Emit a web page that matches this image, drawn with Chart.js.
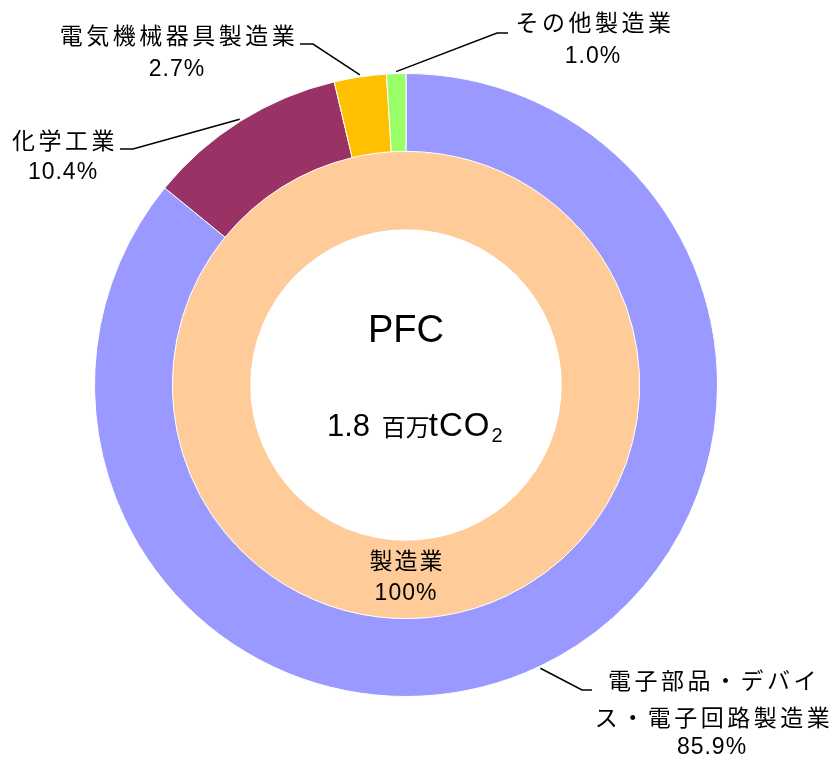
<!DOCTYPE html>
<html>
<head>
<meta charset="utf-8">
<script src="https://cdn.jsdelivr.net/npm/chart.js@4.4.1/dist/chart.umd.min.js"></script>
<style>
  html, body { margin: 0; padding: 0; background: #fff; }
  #wrap { width: 837px; height: 762px; position: relative; }
</style>
</head>
<body>
<div id="wrap"><canvas id="pfcChart"></canvas></div>
<script>
const sectorNames = ['電子部品・デバイス・電子回路製造業', '化学工業', '電気機械器具製造業', 'その他製造業'];
const sectorShares = [85.9, 10.4, 2.7, 1.0];
const sectorColors = ['#9999FF', '#993366', '#FFC000', '#99FF66'];
const groupNames = ['製造業'];
const groupShares = [100];
const groupColors = ['#FFCC99'];
const gasName = 'PFC';
const gasTotal = '1.8';

// label placement: text lines, text centre, and leader elbow
const labelLayout = [
    { lines: ['電子部品・デバイ', 'ス・電子回路製造業'], x: 712, y: [680, 717], py: 748, elbow: [582, 690], end: [592, 690] },
    { lines: ['化学工業'], x: 63, y: [140], py: 173, elbow: [133, 149], end: [120, 149] },
    { lines: ['電気機械器具製造業'], x: 177, y: [35], py: 70, elbow: [313, 44], end: [300, 44] },
    { lines: ['その他製造業'], x: 593, y: [22], py: 57, elbow: [497, 33], end: [508, 33] }
];

const cjkFont = '23px "Noto Sans CJK JP", sans-serif';
const numFont = '23px "Liberation Sans", Arial, sans-serif';

const labelPlugin = {
    id: 'pfcLabels',
    afterDatasetsDraw(chart) {
        const c = chart.ctx;
        const outer = chart.getDatasetMeta(0).data;
        c.save();
        c.fillStyle = '#000';
        c.strokeStyle = '#000';
        c.lineWidth = 1.5;
        c.textAlign = 'center';
        c.textBaseline = 'middle';

        outer.forEach((arc, i) => {
            const L = labelLayout[i];
            const mid = (arc.startAngle + arc.endAngle) / 2;
            const r = arc.outerRadius + 2;
            c.beginPath();
            c.moveTo(arc.x + r * Math.cos(mid), arc.y + r * Math.sin(mid));
            c.lineTo(L.elbow[0], L.elbow[1]);
            c.lineTo(L.end[0], L.end[1]);
            c.stroke();

            c.font = cjkFont;
            c.letterSpacing = '3.5px';
            L.lines.forEach((t, k) => c.fillText(t, L.x + 2, L.y[k]));
            c.font = numFont;
            c.letterSpacing = '1px';
            c.fillText(sectorShares[i].toFixed(1) + '%', L.x, L.py);
        });

        // inner ring label
        const inner = chart.getDatasetMeta(1).data[0];
        c.font = cjkFont;
        c.letterSpacing = '2px';
        c.fillText(groupNames[0], inner.x + 1, 560);
        c.font = numFont;
        c.letterSpacing = '1px';
        c.fillText(groupShares[0] + '%', inner.x, 594);

        // centre text
        c.letterSpacing = '0px';
        c.font = '38px "Liberation Sans", Arial, sans-serif';
        c.fillText(gasName, inner.x, 332);

        c.textAlign = 'left';
        c.textBaseline = 'alphabetic';
        const base = 436;
        let x = 327;
        c.font = '31px "Liberation Sans", Arial, sans-serif';
        c.fillText(gasTotal + ' ', x, base);
        x += c.measureText(gasTotal + ' ').width + 3;
        c.font = '24px "Noto Sans CJK JP", sans-serif';
        c.fillText('百万', x, base);
        x += c.measureText('百万').width - 1;
        c.font = '33px "Liberation Sans", Arial, sans-serif';
        c.letterSpacing = '1px';
        c.fillText('tCO', x, base);
        x += c.measureText('tCO').width + 1;
        c.letterSpacing = '0px';
        c.font = '20px "Liberation Sans", Arial, sans-serif';
        c.fillText('2', x, base + 6);
        c.restore();
    }
};

new Chart(document.getElementById('pfcChart'), {
    type: 'doughnut',
    data: {
        labels: sectorNames,
        datasets: [
            { data: sectorShares, backgroundColor: sectorColors, borderColor: '#fff', borderWidth: 1 },
            { data: groupShares, backgroundColor: groupColors, borderWidth: 0 }
        ]
    },
    options: {
        responsive: true,
        maintainAspectRatio: false,
        animation: false,
        cutout: '50%',
        layout: { padding: { left: 94, right: 119, top: 73, bottom: 65 } },
        plugins: {
            legend: { display: false },
            tooltip: { enabled: false }
        }
    },
    plugins: [labelPlugin]
});
</script>
</body>
</html>
